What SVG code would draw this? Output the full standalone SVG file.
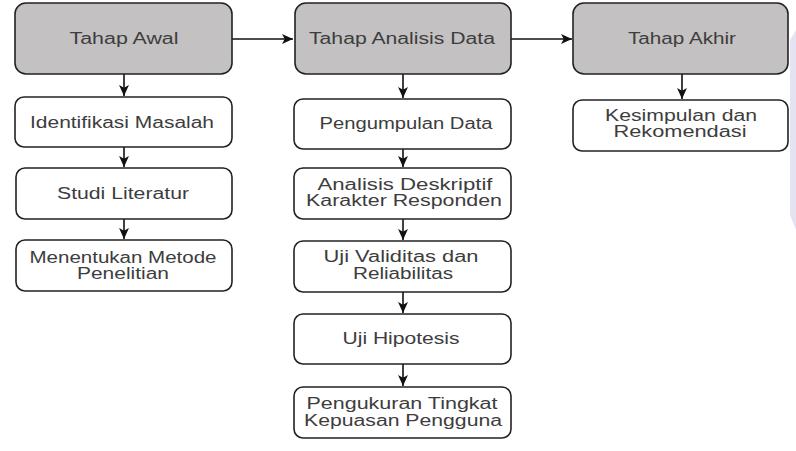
<svg xmlns="http://www.w3.org/2000/svg" width="796" height="451" viewBox="0 0 796 451">
<defs>
<marker id="ah" viewBox="0 0 10 10" refX="10" refY="5" markerWidth="11" markerHeight="11" markerUnits="userSpaceOnUse" orient="auto">
<path d="M0,0.5 L10,5 L0,9.5 L2.5,5 Z" fill="#111"/>
</marker>
<style>
.b{fill:#fff;stroke:#222;stroke-width:1.6}
.g{fill:#c3c1c1;stroke:#222;stroke-width:1.6}
text{font-family:"Liberation Sans",Arial,sans-serif;font-size:16px;fill:#3d3d3d;text-anchor:middle}
.c{stroke:#111;stroke-width:1.6;fill:none;marker-end:url(#ah)}
</style>
</defs>
<rect width="796" height="451" fill="#fff"/>
<path d="M790,40 L796,30 L796,230 L790,215 Z" fill="#e4e3f3"/>
<g id="connectors">
<path class="c" d="M232,39 H293"/>
<path class="c" d="M511,39 H572"/>
<path class="c" d="M124,74 V96"/>
<path class="c" d="M124,147 V167"/>
<path class="c" d="M124,219 V239"/>
<path class="c" d="M403,74 V98"/>
<path class="c" d="M403,149 V167"/>
<path class="c" d="M403,219 V240"/>
<path class="c" d="M403,292 V313"/>
<path class="c" d="M403,364 V386"/>
<path class="c" d="M682,74 V99"/>
</g>
<g id="tahap-awal"><rect class="g" x="15" y="3" width="217" height="71" rx="11"/><text x="124" y="44" textLength="109" lengthAdjust="spacingAndGlyphs">Tahap Awal</text></g>
<g id="identifikasi"><rect class="b" x="15" y="97" width="217" height="50" rx="9"/><text x="122" y="128" textLength="184" lengthAdjust="spacingAndGlyphs">Identifikasi Masalah</text></g>
<g id="studi"><rect class="b" x="16" y="168" width="216" height="51" rx="9"/><text x="123" y="199" textLength="132" lengthAdjust="spacingAndGlyphs">Studi Literatur</text></g>
<g id="metode"><rect class="b" x="16" y="240" width="216" height="51" rx="9"/><text x="123" y="263" textLength="187" lengthAdjust="spacingAndGlyphs">Menentukan Metode</text><text x="123" y="279" textLength="92" lengthAdjust="spacingAndGlyphs">Penelitian</text></g>
<g id="tahap-analisis"><rect class="g" x="295" y="3" width="216" height="71" rx="11"/><text x="402" y="44" textLength="186" lengthAdjust="spacingAndGlyphs">Tahap Analisis Data</text></g>
<g id="pengumpulan"><rect class="b" x="294" y="99" width="217" height="50" rx="9"/><text x="406" y="129" textLength="173" lengthAdjust="spacingAndGlyphs">Pengumpulan Data</text></g>
<g id="deskriptif"><rect class="b" x="294" y="168" width="217" height="51" rx="9"/><text x="405" y="190" textLength="175" lengthAdjust="spacingAndGlyphs">Analisis Deskriptif</text><text x="404" y="206" textLength="196" lengthAdjust="spacingAndGlyphs">Karakter Responden</text></g>
<g id="validitas"><rect class="b" x="294" y="241" width="217" height="51" rx="9"/><text x="401" y="262" textLength="155" lengthAdjust="spacingAndGlyphs">Uji Validitas dan</text><text x="403" y="279" textLength="100" lengthAdjust="spacingAndGlyphs">Reliabilitas</text></g>
<g id="hipotesis"><rect class="b" x="294" y="314" width="217" height="50" rx="9"/><text x="401" y="344" textLength="117" lengthAdjust="spacingAndGlyphs">Uji Hipotesis</text></g>
<g id="kepuasan"><rect class="b" x="294" y="387" width="217" height="51" rx="9"/><text x="402" y="409" textLength="191" lengthAdjust="spacingAndGlyphs">Pengukuran Tingkat</text><text x="403" y="426" textLength="198" lengthAdjust="spacingAndGlyphs">Kepuasan Pengguna</text></g>
<g id="tahap-akhir"><rect class="g" x="573" y="3" width="215" height="71" rx="11"/><text x="682" y="44" textLength="108" lengthAdjust="spacingAndGlyphs">Tahap Akhir</text></g>
<g id="kesimpulan"><rect class="b" x="573" y="100" width="215" height="51" rx="9"/><text x="681" y="121" textLength="152" lengthAdjust="spacingAndGlyphs">Kesimpulan dan</text><text x="680" y="137" textLength="133" lengthAdjust="spacingAndGlyphs">Rekomendasi</text></g>
</svg>
